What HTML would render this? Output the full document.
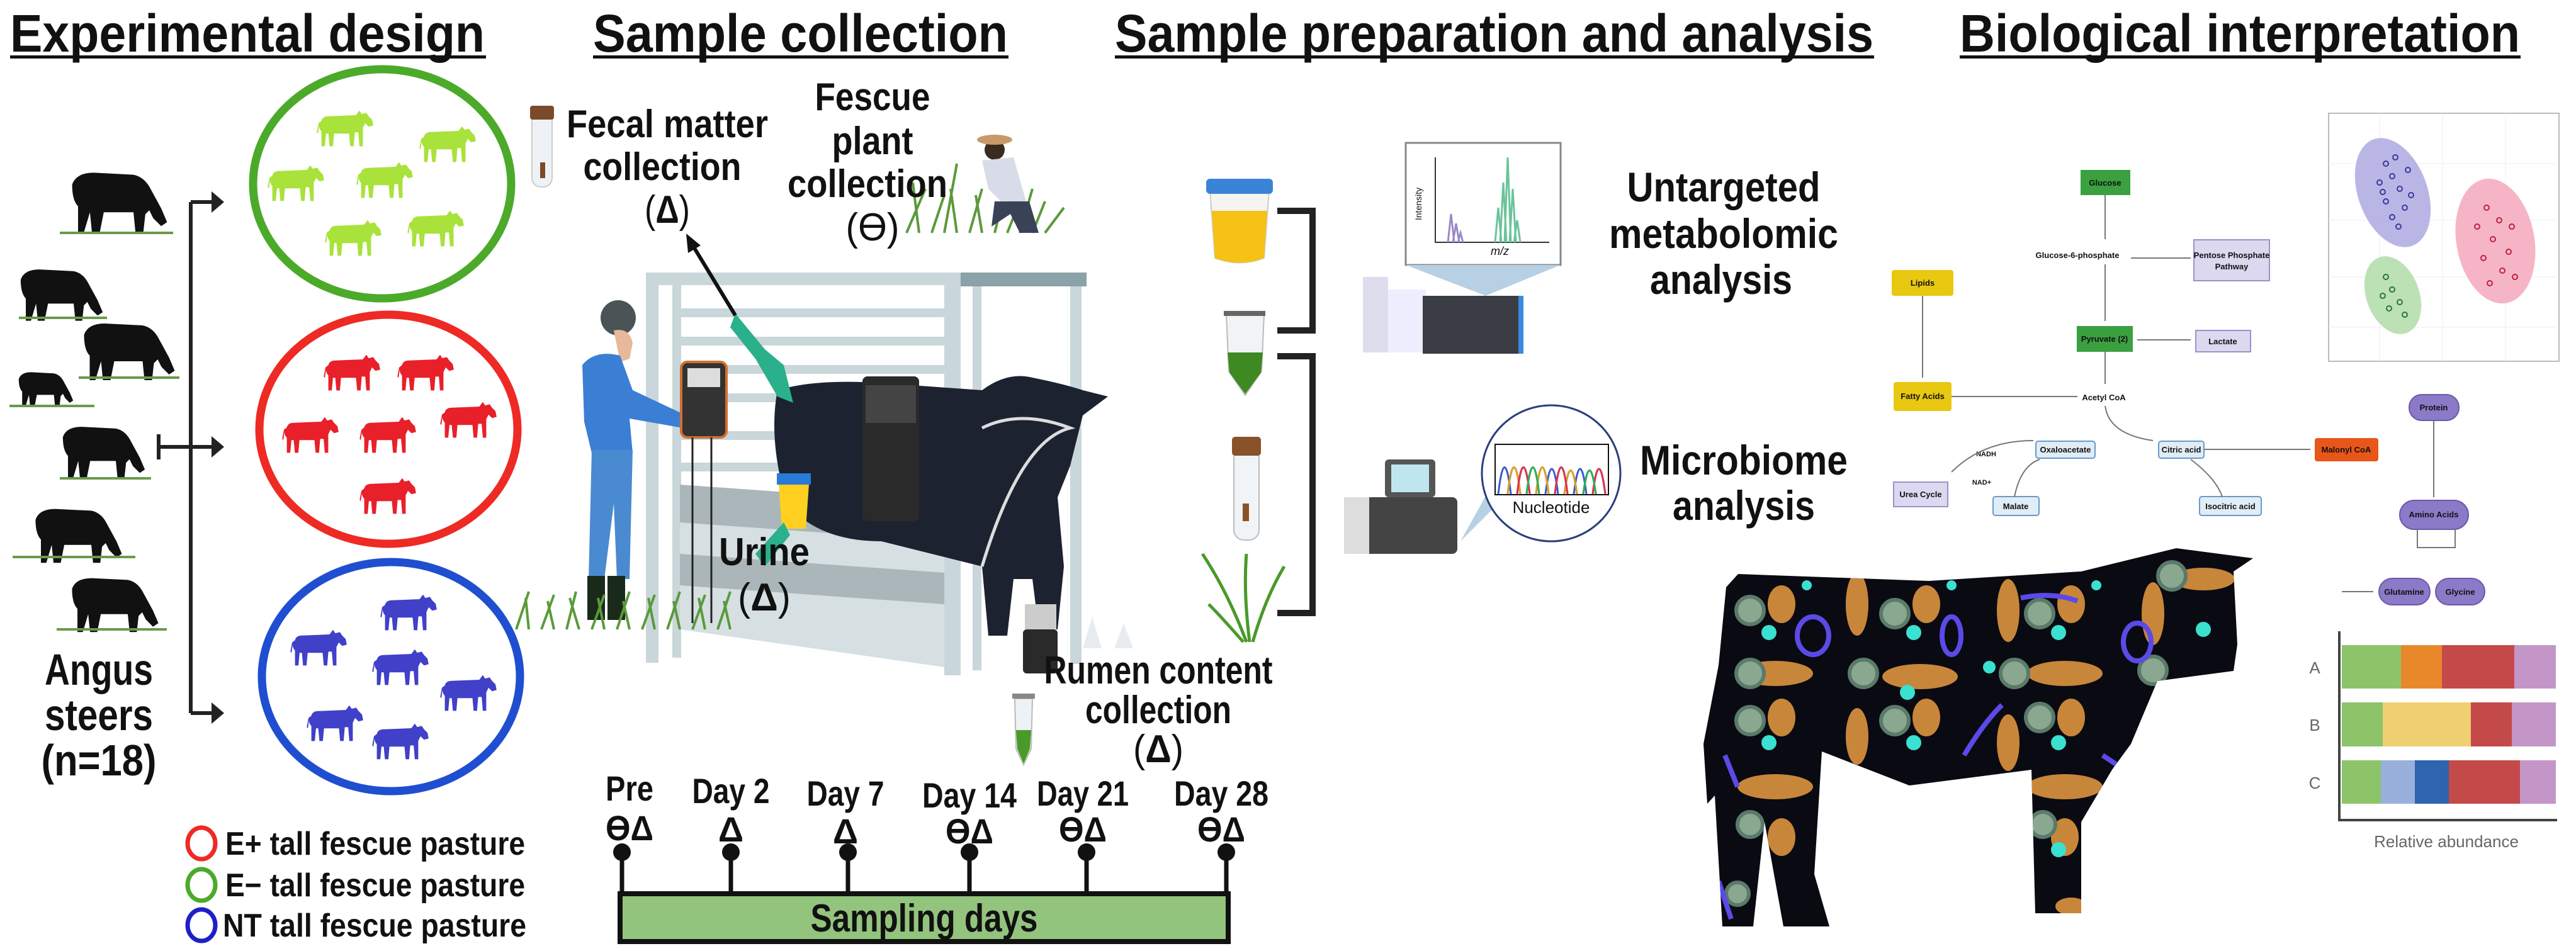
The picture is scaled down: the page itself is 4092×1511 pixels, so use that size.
<!DOCTYPE html>
<html><head><meta charset="utf-8"><style>
html,body{margin:0;padding:0;background:#fff}
svg{display:block}
text{font-family:"Liberation Sans Narrow","Liberation Sans",sans-serif;font-weight:bold;fill:#111}
.s{font-family:"Liberation Sans",sans-serif;font-weight:normal}
</style></head><body>
<svg width="4092" height="1511" viewBox="0 0 4092 1511" xmlns="http://www.w3.org/2000/svg">
<defs>
<symbol id="cow" viewBox="0 0 100 70">
<path d="M8,22 Q10,14 20,14 L68,12 L74,4 L78,10 L86,8 L90,14 L96,20 L98,30 L90,32 L84,26 L80,34 L80,66 L74,66 L72,42 L66,42 L64,66 L58,66 L56,44 L30,44 L28,66 L22,66 L20,44 L16,44 L14,66 L8,66 L8,40 Q4,36 4,30 L2,44 L0,42 L3,26 Z"/>
</symbol>
<symbol id="bcow" viewBox="0 0 100 70">
<path d="M2,18 Q6,6 24,6 L64,8 Q74,10 80,20 L92,42 L98,56 L92,60 L84,52 L80,44 L76,48 L74,66 L66,66 L64,46 L34,46 L30,66 L22,66 L20,46 L14,66 L8,66 L8,40 Q2,34 2,18 Z"/>
</symbol>
</defs>

<!-- Titles -->
<text x="16" y="82" font-size="84" textLength="754" lengthAdjust="spacingAndGlyphs">Experimental design</text>
<rect x="16" y="88" width="756" height="5" fill="#111"/>
<text x="942" y="82" font-size="84" textLength="659" lengthAdjust="spacingAndGlyphs">Sample collection</text>
<rect x="942" y="88" width="660" height="5" fill="#111"/>
<text x="1771" y="82" font-size="84" textLength="1205" lengthAdjust="spacingAndGlyphs">Sample preparation and analysis</text>
<rect x="1771" y="88" width="1206" height="5" fill="#111"/>
<text x="3113" y="82" font-size="84" textLength="890" lengthAdjust="spacingAndGlyphs">Biological interpretation</text>
<rect x="3113" y="88" width="891" height="5" fill="#111"/>

<!-- Left cows -->
<g fill="#111">
<use href="#bcow" x="110" y="265" width="160" height="110"/>
<use href="#bcow" x="28" y="420" width="140" height="95"/>
<use href="#bcow" x="128" y="505" width="155" height="105"/>
<use href="#bcow" x="28" y="585" width="90" height="65"/>
<use href="#bcow" x="95" y="670" width="140" height="95"/>
<use href="#bcow" x="40" y="800" width="170" height="100"/>
<use href="#bcow" x="108" y="910" width="150" height="100"/>
</g>
<g stroke="#6a9a4a" stroke-width="4">
<path d="M95,370 L275,370 M30,505 L170,505 M125,600 L285,600 M15,645 L150,645 M95,760 L240,760 M20,885 L215,885 M90,1000 L265,1000"/>
</g>

<!-- Bracket -->
<g stroke="#222" stroke-width="6" fill="none">
<path d="M303,321 L303,1133 M303,321 L340,321 M303,1133 L340,1133 M252,710 L340,710 M252,690 L252,730"/>
</g>
<g fill="#222">
<path d="M336,304 L356,321 L336,338 Z M336,693 L356,710 L336,727 Z M336,1116 L356,1133 L336,1150 Z"/>
</g>
<text x="157" y="1088" font-size="70" text-anchor="middle" textLength="172" lengthAdjust="spacingAndGlyphs">Angus</text>
<text x="157" y="1160" font-size="70" text-anchor="middle" textLength="172" lengthAdjust="spacingAndGlyphs">steers</text>
<text x="157" y="1232" font-size="70" text-anchor="middle" textLength="183" lengthAdjust="spacingAndGlyphs">(n=18)</text>

<!-- Circles -->
<ellipse cx="607" cy="292" rx="205" ry="182" fill="none" stroke="#4caa2a" stroke-width="13"/>
<ellipse cx="617" cy="682" rx="205" ry="182" fill="none" stroke="#ee2a24" stroke-width="13"/>
<ellipse cx="621" cy="1075" rx="205" ry="182" fill="none" stroke="#1f4fd0" stroke-width="13"/>
<g fill="#a8e23a">
<use href="#cow" x="503" y="172" width="92" height="64"/>
<use href="#cow" x="666" y="197" width="92" height="64"/>
<use href="#cow" x="425" y="259" width="92" height="64"/>
<use href="#cow" x="566" y="254" width="92" height="64"/>
<use href="#cow" x="516" y="346" width="92" height="64"/>
<use href="#cow" x="647" y="331" width="92" height="64"/>
</g>
<g fill="#e8202a">
<use href="#cow" x="514" y="560" width="92" height="64"/>
<use href="#cow" x="631" y="560" width="92" height="64"/>
<use href="#cow" x="448" y="659" width="92" height="64"/>
<use href="#cow" x="571" y="659" width="92" height="64"/>
<use href="#cow" x="699" y="635" width="92" height="64"/>
<use href="#cow" x="571" y="756" width="92" height="64"/>
</g>
<g fill="#4040c8">
<use href="#cow" x="604" y="941" width="92" height="64"/>
<use href="#cow" x="461" y="997" width="92" height="64"/>
<use href="#cow" x="591" y="1028" width="92" height="64"/>
<use href="#cow" x="699" y="1069" width="92" height="64"/>
<use href="#cow" x="487" y="1117" width="92" height="64"/>
<use href="#cow" x="591" y="1146" width="92" height="64"/>
</g>

<!-- Legend -->
<ellipse cx="320" cy="1340" rx="22" ry="25" fill="none" stroke="#ee2a24" stroke-width="7"/>
<ellipse cx="320" cy="1406" rx="22" ry="25" fill="none" stroke="#4caa2a" stroke-width="7"/>
<ellipse cx="320" cy="1470" rx="22" ry="25" fill="none" stroke="#1f1fc8" stroke-width="7"/>
<text x="358" y="1358" font-size="52" textLength="476" lengthAdjust="spacingAndGlyphs">E+ tall fescue pasture</text>
<text x="358" y="1424" font-size="52" textLength="476" lengthAdjust="spacingAndGlyphs">E− tall fescue pasture</text>
<text x="354" y="1488" font-size="52" textLength="482" lengthAdjust="spacingAndGlyphs">NT tall fescue pasture</text>

<!-- Sample collection scene -->
<g fill="#c9d6da">
<rect x="1026" y="433" width="500" height="20"/>
<rect x="1026" y="433" width="20" height="620"/>
<rect x="1068" y="445" width="14" height="600"/>
<rect x="1500" y="433" width="26" height="640"/>
<rect x="1526" y="433" width="200" height="22" fill="#8aa2a8"/>
<rect x="1545" y="455" width="14" height="610"/>
<rect x="1700" y="455" width="18" height="600"/>
<rect x="1080" y="490" width="420" height="14"/>
<rect x="1080" y="535" width="420" height="14"/>
<rect x="1080" y="580" width="420" height="14"/>
<rect x="1080" y="625" width="420" height="14"/>
<rect x="1080" y="685" width="420" height="14"/>
<rect x="1080" y="735" width="420" height="14"/>
<path d="M1080,770 L1500,800 L1500,1060 L1080,1000 Z" fill="#d6e0e3"/>
</g>
<path d="M1080,770 L1500,800 L1500,860 L1080,830 Z M1080,880 L1500,910 L1500,960 L1080,930 Z" fill="#aab6ba"/>
<!-- black cow -->
<path d="M1235,620 Q1300,600 1420,610 L1560,620 Q1600,590 1640,600 Q1690,610 1720,620 L1760,630 L1720,660 L1700,740 L1680,790 L1690,900 L1680,1000 L1650,1000 L1640,920 L1610,920 L1600,1010 L1570,1010 L1560,900 Q1480,880 1400,860 Q1300,860 1250,800 Q1220,700 1235,620 Z" fill="#1c2230"/>
<rect x="1370" y="598" width="90" height="230" rx="8" fill="#2a2a2a"/>
<rect x="1375" y="612" width="80" height="60" fill="#444"/>
<!-- farmer -->
<circle cx="982" cy="505" r="28" fill="#4a5456"/>
<path d="M975,525 Q1000,520 1005,545 L1000,570 L985,575 Z" fill="#e8b89a"/>
<path d="M925,580 Q945,555 985,565 L1005,620 L1090,660 L1085,680 L1000,665 L1005,720 L940,720 L928,670 Z" fill="#3b7fd4"/>
<path d="M940,715 L1005,715 L1000,920 L980,920 L975,800 L960,920 L935,920 Z" fill="#4a8ad0"/>
<rect x="933" y="915" width="28" height="70" fill="#1a2a1a"/>
<rect x="965" y="915" width="28" height="70" fill="#1a2a1a"/>
<rect x="1082" y="575" width="72" height="120" rx="10" fill="#333" stroke="#d07030" stroke-width="4"/>
<rect x="1092" y="585" width="52" height="30" fill="#ddd"/>
<line x1="1100" y1="695" x2="1100" y2="990" stroke="#222" stroke-width="3"/>
<line x1="1130" y1="695" x2="1130" y2="990" stroke="#222" stroke-width="3"/>
<path d="M1168,498 L1215,555 L1245,580 L1260,640 L1235,630 L1200,570 L1160,520 Z" fill="#2ab08a"/>
<path d="M1237,770 L1285,770 L1280,840 L1242,840 Z" fill="#ffd020"/>
<rect x="1234" y="752" width="54" height="18" fill="#2a7ad8"/>
<path d="M1200,880 L1245,830 L1255,850 L1215,900 Z" fill="#2ab08a"/>
<line x1="1168" y1="501" x2="1098" y2="386" stroke="#111" stroke-width="6"/>
<path d="M1090,371 L1113,390 L1093,402 Z" fill="#111"/>
<g stroke="#5a9a3a" stroke-width="4" fill="none">
<path d="M820,1000 L840,940 M840,1000 L835,950 M860,1000 L880,945 M880,1000 L870,955 M900,1000 L915,940 M920,1000 L905,950 M940,1000 L960,945 M960,1000 L950,950 M980,1000 L1000,940 M1000,1000 L990,955 M1020,1000 L1040,945 M1040,1000 L1030,950 M1060,1000 L1080,940 M1080,1000 L1070,955 M1100,1000 L1120,945 M1120,1000 L1110,950 M1140,1000 L1160,940 M1160,1000 L1150,955"/>
<path d="M1440,370 L1470,300 M1460,370 L1450,290 M1480,370 L1500,310 M1500,370 L1520,260 M1520,370 L1510,300 M1540,370 L1560,300 M1560,370 L1550,310 M1580,370 L1600,290 M1600,370 L1620,320 M1620,370 L1640,300 M1640,370 L1660,320 M1660,370 L1690,330"/>
</g>
<circle cx="1580" cy="238" r="16" fill="#3a2a20"/>
<ellipse cx="1580" cy="222" rx="28" ry="8" fill="#c89a6a"/>
<path d="M1560,255 L1610,250 L1630,320 L1600,330 L1570,300 Z" fill="#d8dce8"/>
<path d="M1580,320 L1635,320 L1650,370 L1620,370 L1605,340 L1575,360 Z" fill="#3a4258"/>
<rect x="845" y="172" width="32" height="125" rx="14" fill="#eef2f4" stroke="#ccc" stroke-width="2"/>
<rect x="842" y="168" width="38" height="22" rx="4" fill="#7a4a2a"/>
<rect x="858" y="258" width="8" height="25" fill="#7a4a2a"/>
<rect x="1625" y="1000" width="55" height="70" rx="6" fill="#2a2a2a"/>
<rect x="1628" y="960" width="50" height="40" fill="#ccc"/>
<path d="M1560,680 Q1620,650 1700,680 Q1620,700 1560,900" fill="none" stroke="#ddd" stroke-width="5"/>
<path d="M1720,1030 L1735,980 L1750,1030 Z M1770,1030 L1785,990 L1800,1030 Z" fill="#e8ecee"/>
<path d="M1612,1110 L1640,1110 L1638,1190 L1626,1215 L1614,1190 Z" fill="#eef2f4" stroke="#bbb" stroke-width="2"/>
<path d="M1614,1160 L1638,1160 L1636,1190 L1626,1213 L1616,1190 Z" fill="#4a9a2a"/>
<rect x="1608" y="1102" width="36" height="8" fill="#888"/>

<text x="1060" y="218" font-size="62" text-anchor="middle" textLength="320" lengthAdjust="spacingAndGlyphs">Fecal matter</text>
<text x="1052" y="286" font-size="62" text-anchor="middle" textLength="251" lengthAdjust="spacingAndGlyphs">collection</text>
<text x="1060" y="354" font-size="62" text-anchor="middle" class="s" textLength="72" lengthAdjust="spacingAndGlyphs">(<tspan font-weight="bold">Δ</tspan>)</text>
<text x="1386" y="175" font-size="62" text-anchor="middle" textLength="183" lengthAdjust="spacingAndGlyphs">Fescue</text>
<text x="1386" y="245" font-size="62" text-anchor="middle" textLength="129" lengthAdjust="spacingAndGlyphs">plant</text>
<text x="1378" y="313" font-size="62" text-anchor="middle" textLength="254" lengthAdjust="spacingAndGlyphs">collection</text>
<text x="1386" y="382" font-size="62" text-anchor="middle" class="s" textLength="85" lengthAdjust="spacingAndGlyphs">(ϴ)</text>
<text x="1214" y="898" font-size="62" text-anchor="middle" textLength="144" lengthAdjust="spacingAndGlyphs">Urine</text>
<text x="1214" y="970" font-size="62" text-anchor="middle" class="s" textLength="84" lengthAdjust="spacingAndGlyphs">(<tspan font-weight="bold">Δ</tspan>)</text>
<text x="1840" y="1086" font-size="62" text-anchor="middle" textLength="363" lengthAdjust="spacingAndGlyphs">Rumen content</text>
<text x="1840" y="1149" font-size="62" text-anchor="middle" textLength="232" lengthAdjust="spacingAndGlyphs">collection</text>
<text x="1840" y="1211" font-size="62" text-anchor="middle" class="s" textLength="80" lengthAdjust="spacingAndGlyphs">(<tspan font-weight="bold">Δ</tspan>)</text>

<!-- Timeline -->
<rect x="985" y="1420" width="966" height="76" fill="#93c47d" stroke="#111" stroke-width="8"/>
<text x="1468" y="1480" font-size="62" text-anchor="middle" textLength="361" lengthAdjust="spacingAndGlyphs">Sampling days</text>
<g stroke="#111" stroke-width="7">
<line x1="988" y1="1354" x2="988" y2="1420"/><line x1="1161" y1="1354" x2="1161" y2="1420"/>
<line x1="1347" y1="1354" x2="1347" y2="1420"/><line x1="1540" y1="1354" x2="1540" y2="1420"/>
<line x1="1726" y1="1354" x2="1726" y2="1420"/><line x1="1948" y1="1354" x2="1948" y2="1420"/>
</g>
<g fill="#111">
<circle cx="988" cy="1354" r="14"/><circle cx="1161" cy="1354" r="14"/><circle cx="1347" cy="1354" r="14"/>
<circle cx="1540" cy="1354" r="14"/><circle cx="1726" cy="1354" r="14"/><circle cx="1948" cy="1354" r="14"/>
</g>
<g font-size="56" text-anchor="middle" lengthAdjust="spacingAndGlyphs">
<text x="1000" y="1272" textLength="76" lengthAdjust="spacingAndGlyphs">Pre</text><text x="1000" y="1335" textLength="76" lengthAdjust="spacingAndGlyphs">ϴΔ</text>
<text x="1161" y="1276" textLength="123" lengthAdjust="spacingAndGlyphs">Day 2</text><text x="1161" y="1337">Δ</text>
<text x="1343" y="1280" textLength="123" lengthAdjust="spacingAndGlyphs">Day 7</text><text x="1343" y="1340">Δ</text>
<text x="1540" y="1283" textLength="150" lengthAdjust="spacingAndGlyphs">Day 14</text><text x="1540" y="1340" textLength="76" lengthAdjust="spacingAndGlyphs">ϴΔ</text>
<text x="1720" y="1280" textLength="146" lengthAdjust="spacingAndGlyphs">Day 21</text><text x="1720" y="1337" textLength="76" lengthAdjust="spacingAndGlyphs">ϴΔ</text>
<text x="1940" y="1280" textLength="150" lengthAdjust="spacingAndGlyphs">Day 28</text><text x="1940" y="1337" textLength="76" lengthAdjust="spacingAndGlyphs">ϴΔ</text>
</g>

<!-- Sample prep containers -->
<path d="M1922,303 L2016,303 L2008,410 Q1969,425 1930,410 Z" fill="#f4f4f0" stroke="#ccc" stroke-width="2"/>
<path d="M1925,335 L2013,335 L2008,410 Q1969,425 1930,410 Z" fill="#f5c215"/>
<rect x="1916" y="284" width="106" height="24" rx="6" fill="#3a84d8"/>
<path d="M1948,500 L2008,500 L2004,590 L1978,628 L1952,590 Z" fill="#f0f4f4" stroke="#bbb" stroke-width="2"/>
<path d="M1950,560 L2006,560 L2003,592 L1978,626 L1953,592 Z" fill="#3e8a22"/>
<rect x="1944" y="494" width="66" height="8" fill="#666"/>
<rect x="1960" y="712" width="40" height="146" rx="16" fill="#f0f4f6" stroke="#bbb" stroke-width="2"/>
<rect x="1957" y="694" width="46" height="30" rx="5" fill="#8a5228"/>
<rect x="1974" y="800" width="10" height="28" fill="#8a5228"/>
<g stroke="#4a9a2a" stroke-width="5" fill="none">
<path d="M1980,1020 Q1950,940 1910,880 M1985,1020 Q1975,940 1980,880 M1990,1020 Q2010,950 2040,900 M1975,1020 Q1940,980 1920,960"/>
</g>
<g stroke="#222" stroke-width="10" fill="none">
<path d="M2029,335 L2085,335 L2085,525 L2029,525"/>
<path d="M2029,566 L2085,566 L2085,974 L2029,974"/>
</g>

<!-- MS -->
<rect x="2233" y="227" width="246" height="194" fill="#fff" stroke="#888" stroke-width="3"/>
<path d="M2280,250 L2280,385 L2461,385" fill="none" stroke="#333" stroke-width="2"/>
<path d="M2300,385 L2305,340 L2310,385 M2308,385 L2313,355 L2318,385 M2316,385 L2320,370 L2324,385" fill="none" stroke="#9a8ac8" stroke-width="3"/>
<path d="M2375,385 L2380,330 L2385,385 M2383,385 L2388,290 L2393,385 M2390,385 L2395,250 L2400,385 M2398,385 L2403,300 L2408,385 M2405,385 L2410,350 L2415,385" fill="none" stroke="#6ac49a" stroke-width="3"/>
<text x="2368" y="405" font-size="18" class="s" font-style="italic">m/z</text>
<text x="2258" y="350" font-size="14" class="s" transform="rotate(-90 2258 350)">Intensity</text>
<path d="M2233,421 L2479,421 L2360,470 Z" fill="#b8d0e4"/>
<rect x="2165" y="440" width="40" height="120" fill="#dde"/>
<rect x="2205" y="460" width="60" height="100" fill="#eef"/>
<rect x="2260" y="470" width="160" height="92" fill="#3a3e44"/>
<rect x="2412" y="470" width="8" height="92" fill="#3a8ae0"/>
<rect x="2135" y="790" width="180" height="90" rx="8" fill="#444"/>
<rect x="2135" y="790" width="40" height="90" fill="#ddd"/>
<rect x="2200" y="730" width="80" height="60" rx="6" fill="#555"/>
<rect x="2210" y="738" width="60" height="44" fill="#bfe6ee"/>
<path d="M2320,860 L2370,770 L2380,800 Z" fill="#b8d0e4"/>
<ellipse cx="2464" cy="752" rx="110" ry="108" fill="#fff" stroke="#2a3e7a" stroke-width="3"/>
<rect x="2375" y="706" width="180" height="80" fill="#fff" stroke="#111" stroke-width="2"/>
<path d="M2380,785 Q2390,700 2400,785 M2395,785 Q2405,700 2415,785 M2410,785 Q2420,700 2430,785 M2425,785 Q2435,700 2445,785 M2440,785 Q2450,700 2460,785 M2455,785 Q2465,705 2475,785 M2470,785 Q2480,700 2490,785 M2485,785 Q2495,710 2505,785 M2500,785 Q2510,705 2520,785 M2515,785 Q2525,710 2535,785 M2530,785 Q2540,705 2550,785" fill="none" stroke-width="3" stroke="#3a5ad0"/>
<path d="M2395,785 Q2405,700 2415,785 M2440,785 Q2450,700 2460,785 M2485,785 Q2495,710 2505,785" fill="none" stroke="#e0a020" stroke-width="3"/>
<path d="M2410,785 Q2420,700 2430,785 M2470,785 Q2480,700 2490,785 M2530,785 Q2540,705 2550,785" fill="none" stroke="#e03050" stroke-width="3"/>
<path d="M2425,785 Q2435,700 2445,785 M2515,785 Q2525,710 2535,785" fill="none" stroke="#30b050" stroke-width="3"/>
<text x="2464" y="815" font-size="26" class="s" text-anchor="middle">Nucleotide</text>

<text x="2738" y="320" font-size="66" text-anchor="middle" textLength="307" lengthAdjust="spacingAndGlyphs">Untargeted</text>
<text x="2738" y="394" font-size="66" text-anchor="middle" textLength="364" lengthAdjust="spacingAndGlyphs">metabolomic</text>
<text x="2734" y="467" font-size="66" text-anchor="middle" textLength="226" lengthAdjust="spacingAndGlyphs">analysis</text>
<text x="2770" y="754" font-size="66" text-anchor="middle" textLength="330" lengthAdjust="spacingAndGlyphs">Microbiome</text>
<text x="2770" y="826" font-size="66" text-anchor="middle" textLength="226" lengthAdjust="spacingAndGlyphs">analysis</text>

<!-- Pathway -->
<g font-size="13" class="s" text-anchor="middle">
<rect x="3305" y="270" width="79" height="40" fill="#3aa040"/><text x="3344" y="295" fill="#cfe">Glucose</text>
<rect x="3005" y="429" width="98" height="41" rx="4" fill="#e8c810"/><text x="3054" y="454" fill="#fff6c0">Lipids</text>
<rect x="3485" y="381" width="120" height="65" fill="#dcd8f0" stroke="#9a92c8" stroke-width="2"/><text x="3545" y="410" fill="#777">Pentose Phosphate</text><text x="3545" y="428" fill="#777">Pathway</text>
<rect x="3299" y="518" width="89" height="41" fill="#3aa040"/><text x="3343" y="543" fill="#cfe">Pyruvate (2)</text>
<rect x="3488" y="525" width="87" height="34" fill="#dcd8f0" stroke="#9a92c8" stroke-width="2"/><text x="3531" y="547" fill="#666">Lactate</text>
<rect x="3008" y="607" width="92" height="46" rx="4" fill="#e8c810"/><text x="3054" y="634" fill="#fff6c0">Fatty Acids</text>
<text x="3342" y="636" fill="#333">Acetyl CoA</text>
<text x="3300" y="410" fill="#999">Glucose-6-phosphate</text>
<rect x="3234" y="701" width="94" height="27" rx="4" fill="#e0ecf6" stroke="#6a9ac8" stroke-width="2"/><text x="3281" y="719" fill="#555">Oxaloacetate</text>
<rect x="3429" y="701" width="72" height="27" rx="4" fill="#e0ecf6" stroke="#6a9ac8" stroke-width="2"/><text x="3465" y="719" fill="#555">Citric acid</text>
<rect x="3677" y="696" width="101" height="37" rx="4" fill="#e8561a"/><text x="3727" y="719" fill="#fdd">Malonyl CoA</text>
<rect x="3008" y="766" width="86" height="39" fill="#dcd8f0" stroke="#9a92c8" stroke-width="2"/><text x="3051" y="790" fill="#666">Urea Cycle</text>
<rect x="3166" y="789" width="73" height="30" rx="4" fill="#e0ecf6" stroke="#6a9ac8" stroke-width="2"/><text x="3202" y="809" fill="#555">Malate</text>
<rect x="3494" y="789" width="98" height="30" rx="4" fill="#e0ecf6" stroke="#6a9ac8" stroke-width="2"/><text x="3543" y="809" fill="#555">Isocitric acid</text>
<rect x="3827" y="627" width="79" height="41" rx="20" fill="#8a7ac8" stroke="#6a5aa8" stroke-width="2"/><text x="3866" y="652" fill="#eee">Protein</text>
<rect x="3812" y="795" width="109" height="46" rx="23" fill="#8a7ac8" stroke="#6a5aa8" stroke-width="2"/><text x="3866" y="822" fill="#eee">Amino Acids</text>
<rect x="3779" y="919" width="81" height="42" rx="21" fill="#8a7ac8" stroke="#6a5aa8" stroke-width="2"/><text x="3819" y="945" fill="#eee">Glutamine</text>
<rect x="3869" y="919" width="78" height="42" rx="21" fill="#8a7ac8" stroke="#6a5aa8" stroke-width="2"/><text x="3908" y="945" fill="#eee">Glycine</text>
<text x="3155" y="725" fill="#e03030" font-size="11">NADH</text>
<text x="3148" y="770" fill="#e03030" font-size="11">NAD+</text>
</g>
<g stroke="#777" stroke-width="2" fill="none">
<path d="M3344,310 L3344,380 M3344,420 L3344,510 M3385,410 L3480,410 M3480,540 L3395,540 M3054,470 L3054,600 M3100,630 L3300,630 M3344,559 L3344,610 M3344,645 Q3350,690 3420,700 M3501,714 L3670,714 M3866,668 L3866,790 M3840,841 L3840,870 L3900,870 L3900,841 M3770,940 L3720,940 M3230,700 Q3150,700 3100,750 M3480,730 Q3520,760 3530,789 M3200,789 Q3210,740 3240,730"/>
</g>

<!-- PCA -->
<rect x="3699" y="180" width="366" height="394" fill="#fff" stroke="#bbb" stroke-width="2"/>
<g stroke="#eee" stroke-width="1">
<path d="M3699,260 L4065,260 M3699,350 L4065,350 M3699,440 L4065,440 M3699,520 L4065,520 M3780,180 L3780,574 M3880,180 L3880,574 M3980,180 L3980,574"/>
</g>
<ellipse cx="3801" cy="306" rx="55" ry="90" fill="#a8a4e0" transform="rotate(-20 3801 306)" opacity="0.8"/>
<ellipse cx="3964" cy="383" rx="62" ry="100" fill="#f4a8bc" transform="rotate(-10 3964 383)" opacity="0.85"/>
<ellipse cx="3801" cy="469" rx="42" ry="64" fill="#b0dca8" transform="rotate(-20 3801 469)" opacity="0.85"/>
<g fill="none" stroke-width="2">
<g stroke="#3a3a9a"><circle cx="3790" cy="260" r="4"/><circle cx="3800" cy="280" r="4"/><circle cx="3812" cy="300" r="4"/><circle cx="3790" cy="320" r="4"/><circle cx="3820" cy="330" r="4"/><circle cx="3800" cy="345" r="4"/><circle cx="3780" cy="290" r="4"/><circle cx="3825" cy="270" r="4"/><circle cx="3810" cy="360" r="4"/><circle cx="3805" cy="250" r="4"/><circle cx="3830" cy="310" r="4"/><circle cx="3785" cy="305" r="4"/></g>
<g stroke="#c02040"><circle cx="3950" cy="330" r="4"/><circle cx="3970" cy="350" r="4"/><circle cx="3960" cy="380" r="4"/><circle cx="3985" cy="400" r="4"/><circle cx="3945" cy="410" r="4"/><circle cx="3975" cy="430" r="4"/><circle cx="3990" cy="360" r="4"/><circle cx="3955" cy="450" r="4"/><circle cx="3935" cy="360" r="4"/><circle cx="3995" cy="440" r="4"/></g>
<g stroke="#2a7a2a"><circle cx="3790" cy="440" r="4"/><circle cx="3800" cy="460" r="4"/><circle cx="3812" cy="480" r="4"/><circle cx="3795" cy="490" r="4"/><circle cx="3820" cy="500" r="4"/><circle cx="3785" cy="470" r="4"/></g>
</g>

<!-- Bar chart -->
<rect x="3720" y="1025" width="94" height="69" fill="#8dc46a"/><rect x="3814" y="1025" width="65" height="69" fill="#e8882a"/><rect x="3879" y="1025" width="115" height="69" fill="#c44a4a"/><rect x="3994" y="1025" width="66" height="69" fill="#c496c8"/>
<rect x="3720" y="1116" width="65" height="70" fill="#8dc46a"/><rect x="3785" y="1116" width="140" height="70" fill="#f0d070"/><rect x="3925" y="1116" width="65" height="70" fill="#c44a4a"/><rect x="3990" y="1116" width="70" height="70" fill="#c496c8"/>
<rect x="3720" y="1208" width="62" height="69" fill="#8dc46a"/><rect x="3782" y="1208" width="54" height="69" fill="#9ab0dc"/><rect x="3836" y="1208" width="54" height="69" fill="#2e64b0"/><rect x="3890" y="1208" width="113" height="69" fill="#c44a4a"/><rect x="4003" y="1208" width="57" height="69" fill="#c496c8"/>
<path d="M3716,1003 L3716,1303 L4062,1303" fill="none" stroke="#444" stroke-width="4"/>
<g font-size="26" class="s" text-anchor="middle">
<text x="3677" y="1070" class="s" fill="#666" style="fill:#666">A</text><text x="3677" y="1161" class="s" style="fill:#666">B</text><text x="3677" y="1253" class="s" style="fill:#666">C</text>
<text x="3886" y="1346" class="s" style="fill:#666">Relative abundance</text>
</g>

<!-- Microbe cow -->
<clipPath id="cc"><path d="M2761,912 L3064,923 L3306,908 L3457,871 L3579,887 L3548,908 L3554,1024 L3548,1066 L3427,1082 L3385,1182 L3355,1223 L3306,1306 L3306,1451 L3233,1451 L3227,1223 L3033,1248 L2894,1194 L2882,1389 L2906,1472 L2833,1472 L2803,1306 L2785,1472 L2736,1472 L2724,1264 L2712,1277 L2706,1182 L2730,1057 L2742,933 Z"/></clipPath>
<g clip-path="url(#cc)">
<rect x="2690" y="860" width="900" height="630" fill="#0a0a12"/>
<g fill="#c8863a">
<ellipse cx="2820" cy="1070" rx="60" ry="20"/><ellipse cx="3050" cy="1075" rx="60" ry="20"/><ellipse cx="3280" cy="1070" rx="60" ry="20"/>
<ellipse cx="2820" cy="1250" rx="60" ry="20"/><ellipse cx="3280" cy="1250" rx="60" ry="20"/><ellipse cx="3500" cy="920" rx="50" ry="18"/>
<ellipse cx="2950" cy="960" rx="18" ry="50"/><ellipse cx="3190" cy="970" rx="18" ry="50"/><ellipse cx="3420" cy="975" rx="18" ry="50"/>
<ellipse cx="2950" cy="1170" rx="18" ry="45"/><ellipse cx="3190" cy="1180" rx="18" ry="45"/>
<ellipse cx="2830" cy="960" rx="22" ry="30"/><ellipse cx="3060" cy="960" rx="22" ry="30"/><ellipse cx="3290" cy="960" rx="22" ry="30"/>
<ellipse cx="2830" cy="1140" rx="22" ry="30"/><ellipse cx="3060" cy="1140" rx="22" ry="30"/><ellipse cx="3290" cy="1140" rx="22" ry="30"/>
<ellipse cx="2830" cy="1330" rx="22" ry="30"/><ellipse cx="3280" cy="1330" rx="22" ry="30"/><ellipse cx="3290" cy="1440" rx="25" ry="14"/>
</g>
<g fill="#8aa890" stroke="#5a7a6a" stroke-width="6">
<circle cx="2780" cy="970" r="22"/><circle cx="3010" cy="975" r="22"/><circle cx="3240" cy="975" r="22"/><circle cx="3450" cy="915" r="22"/>
<circle cx="2780" cy="1070" r="22"/><circle cx="2960" cy="1070" r="22"/><circle cx="3200" cy="1070" r="22"/><circle cx="3420" cy="1065" r="22"/>
<circle cx="2780" cy="1145" r="22"/><circle cx="3010" cy="1145" r="22"/><circle cx="3240" cy="1140" r="22"/>
<circle cx="2780" cy="1310" r="20"/><circle cx="3245" cy="1310" r="20"/><circle cx="2760" cy="1420" r="18"/>
</g>
<g fill="#3ae0d0">
<circle cx="2810" cy="1005" r="12"/><circle cx="3040" cy="1005" r="12"/><circle cx="3270" cy="1005" r="12"/><circle cx="3500" cy="1000" r="12"/>
<circle cx="2810" cy="1180" r="12"/><circle cx="3040" cy="1180" r="12"/><circle cx="3270" cy="1180" r="12"/><circle cx="3030" cy="1100" r="12"/><circle cx="3160" cy="1060" r="10"/>
<circle cx="3270" cy="1350" r="12"/><circle cx="2870" cy="930" r="8"/><circle cx="3100" cy="930" r="8"/><circle cx="3330" cy="930" r="8"/>
</g>
<g fill="none" stroke="#5a4ae8" stroke-width="8">
<ellipse cx="2880" cy="1010" rx="25" ry="30"/><ellipse cx="3395" cy="1020" rx="22" ry="30"/><ellipse cx="3100" cy="1010" rx="15" ry="30"/>
<path d="M2740,1200 L2760,1250 M2730,1400 L2750,1460 M3120,1200 Q3150,1150 3180,1120 M3340,1200 L3370,1220 M3210,950 Q3260,940 3300,955"/>
</g>
</g>
</svg>
</body></html>
